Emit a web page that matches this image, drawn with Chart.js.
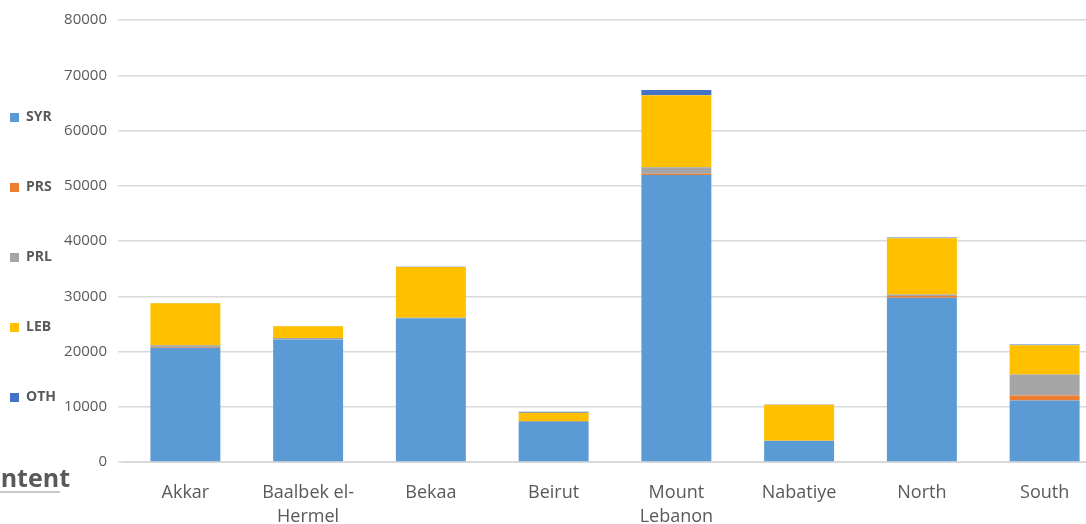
<!DOCTYPE html>
<html>
<head>
<meta charset="utf-8">
<script src="https://cdn.jsdelivr.net/npm/chart.js@4/dist/chart.umd.min.js"></script>
<style>
  html, body { margin: 0; padding: 0; background: #fff; overflow: hidden; }
  #wrap { position: relative; width: 1106px; height: 524px; }
  #heading {
    position: absolute; right: 1036px; top: 460px; z-index: 2;
    font: bold 25px "Open Sans", sans-serif; color: #595959; white-space: nowrap;
  }
  #rule { position: absolute; left: 0; top: 491px; width: 60px; height: 2px; background: #c8c8c8; }
</style>
</head>
<body>
<div id="wrap">
  <canvas id="chart"></canvas>
  <div id="heading">Content</div>
  <div id="rule"></div>
</div>
<script>
const regions = ['Akkar', ['Baalbek el-', 'Hermel'], 'Bekaa', 'Beirut', ['Mount', 'Lebanon'], 'Nabatiye', 'North', 'South'];
const syr = [20700, 22150, 26000, 7250, 51950, 3800, 29750, 11150];
const prs = [100, 0, 0, 0, 200, 0, 300, 900];
const prl = [350, 300, 100, 150, 1200, 50, 250, 3800];
const leb = [7600, 2100, 9200, 1500, 13050, 6500, 10200, 5300];
const oth = [50, 50, 50, 200, 950, 50, 150, 100];
const yTicks = [0, 10000, 20000, 30000, 40000, 50000, 60000, 70000, 80000];

const series = [
  { label: 'SYR', data: syr, color: '#5b9bd5' },
  { label: 'PRS', data: prs, color: '#ed7d31' },
  { label: 'PRL', data: prl, color: '#a5a5a5' },
  { label: 'LEB', data: leb, color: '#ffc000' },
  { label: 'OTH', data: oth, color: '#4472c4' },
];

new Chart(document.getElementById('chart'), {
  type: 'bar',
  data: {
    labels: regions,
    datasets: series.map(s => ({
      label: s.label,
      data: s.data,
      backgroundColor: s.color,
      borderWidth: 0,
      barPercentage: 0.57,
      categoryPercentage: 1
    }))
  },
  options: {
    responsive: true,
    maintainAspectRatio: false,
    animation: false,
    layout: { padding: { left: -46, top: 10, right: 0, bottom: 0 } },
    plugins: {
      tooltip: { enabled: false },
      legend: {
        position: 'left',
        align: 'start',
        maxWidth: 104,
        // empty title only used as a spacer above the first item
        title: { display: true, text: ' ', font: { size: 10, lineHeight: 1.2 }, padding: { top: 17.5, bottom: 15 } },
        labels: {
          boxWidth: 9,
          boxHeight: 9,
          padding: 56,
          color: '#595959',
          font: { family: '"Open Sans", sans-serif', size: 14, weight: 'bold' }
        }
      }
    },
    scales: {
      x: {
        stacked: true,
        grid: { display: false },
        border: { color: '#d9d9d9', width: 2 },
        ticks: {
          color: '#595959',
          padding: 10,
          maxRotation: 0,
          font: { family: '"Open Sans", sans-serif', size: 18, lineHeight: 1.38 }
        },
        afterFit: scale => { scale.height = 62; }
      },
      y: {
        stacked: true,
        min: 0,
        max: 80000,
        afterBuildTicks: scale => { scale.ticks = yTicks.map(v => ({ value: v })); },
        grid: { color: '#d9d9d9', lineWidth: 1.5, drawTicks: true, tickLength: 6 },
        border: { display: false },
        ticks: {
          color: '#595959',
          padding: 11,
          font: { family: '"Open Sans", sans-serif', size: 15 },
          callback: v => String(v)
        },
        afterFit: scale => { scale.width = 170 - scale.chart.legend.width; }
      }
    }
  }
});
</script>
</body>
</html>
